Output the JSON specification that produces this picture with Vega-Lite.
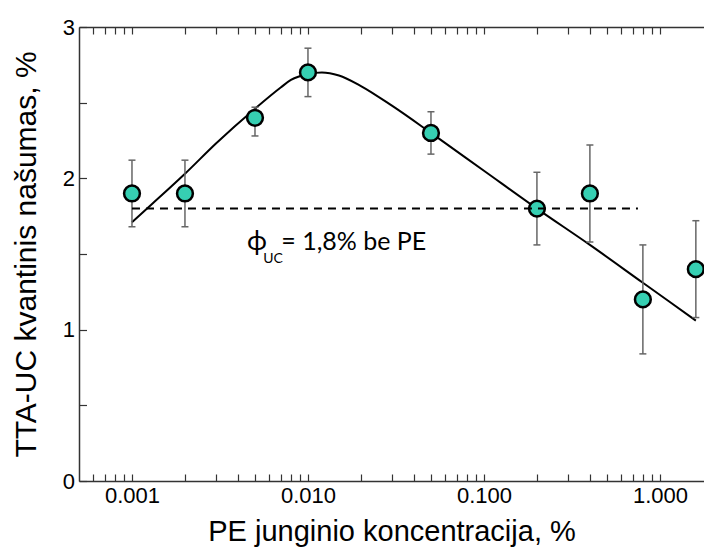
{
  "$schema": "https://vega.github.io/schema/vega-lite/v6.json",
  "autosize": {"type": "none"},
  "padding": {"left": 79, "top": 27, "right": 0, "bottom": 71},
  "width": 625,
  "height": 454,
  "background": "white",
  "config": {
    "view": {"stroke": null},
    "axis": {
      "domainColor": "#333",
      "tickColor": "#333",
      "domainWidth": 1.5,
      "tickWidth": 1.2,
      "labelFont": "Liberation Sans",
      "labelFontSize": 22,
      "labelColor": "black",
      "titleFont": "Liberation Sans",
      "titleFontWeight": "normal",
      "titleColor": "black",
      "grid": false,
      "labelOverlap": false
    }
  },
  "datasets": {
    "pts": [
      {"conc": 0.001, "qy": 1.9, "lo": 1.68, "hi": 2.12},
      {"conc": 0.002, "qy": 1.9, "lo": 1.68, "hi": 2.12},
      {"conc": 0.005, "qy": 2.4, "lo": 2.28, "hi": 2.47},
      {"conc": 0.01, "qy": 2.7, "lo": 2.54, "hi": 2.86},
      {"conc": 0.05, "qy": 2.3, "lo": 2.16, "hi": 2.44},
      {"conc": 0.2, "qy": 1.8, "lo": 1.56, "hi": 2.04},
      {"conc": 0.4, "qy": 1.9, "lo": 1.58, "hi": 2.22},
      {"conc": 0.8, "qy": 1.2, "lo": 0.84, "hi": 1.56},
      {"conc": 1.6, "qy": 1.4, "lo": 1.08, "hi": 1.72}
    ],
    "fit": [
      {"conc": 0.001, "qy": 1.71},
      {"conc": 0.0013, "qy": 1.83},
      {"conc": 0.002, "qy": 2.03},
      {"conc": 0.003, "qy": 2.23},
      {"conc": 0.005, "qy": 2.46},
      {"conc": 0.007, "qy": 2.6},
      {"conc": 0.008, "qy": 2.65},
      {"conc": 0.01, "qy": 2.69},
      {"conc": 0.012, "qy": 2.7},
      {"conc": 0.015, "qy": 2.68},
      {"conc": 0.02, "qy": 2.61},
      {"conc": 0.03, "qy": 2.48},
      {"conc": 0.05, "qy": 2.3},
      {"conc": 0.1, "qy": 2.05},
      {"conc": 0.2, "qy": 1.8},
      {"conc": 0.4, "qy": 1.56},
      {"conc": 0.8, "qy": 1.31},
      {"conc": 1.6, "qy": 1.06}
    ],
    "ref": [
      {"conc": 0.001, "qy": 1.8},
      {"conc": 0.75, "qy": 1.8}
    ]
  },
  "resolve": {"axis": {"x": "independent", "y": "independent"}},
  "layer": [
    {
      "data": {"name": "fit"},
      "mark": {"type": "line", "color": "black", "strokeWidth": 2, "interpolate": "monotone"},
      "encoding": {
        "x": {
          "field": "conc", "type": "quantitative",
          "scale": {"type": "log", "domain": [0.0005, 1.78], "nice": false},
          "axis": {
            "orient": "bottom",
            "title": "PE junginio koncentracija, %",
            "titleFontSize": 29,
            "titlePadding": 11,
            "values": [0.0006, 0.0007, 0.0008, 0.0009, 0.001, 0.002, 0.003, 0.004, 0.005, 0.006, 0.007, 0.008, 0.009, 0.01, 0.02, 0.03, 0.04, 0.05, 0.06, 0.07, 0.08, 0.09, 0.1, 0.2, 0.3, 0.4, 0.5, 0.6, 0.7, 0.8, 0.9, 1],
            "labelExpr": "datum.value == 0.001 ? '0.001' : datum.value == 0.01 ? '0.010' : datum.value == 0.1 ? '0.100' : datum.value == 1 ? '1.000' : ''",
            "tickSize": -7,
            "labelPadding": 11,
            "encode": {"ticks": {"y2": {"condition": {"test": "datum.value == 0.001 || datum.value == 0.01 || datum.value == 0.1 || datum.value == 1", "value": -7}, "value": -3.5}}}
          }
        },
        "y": {
          "field": "qy", "type": "quantitative",
          "scale": {"domain": [0, 3], "nice": false},
          "axis": {
            "title": "TTA-UC kvantinis našumas, %",
            "titleFontSize": 30,
            "titlePadding": 21,
            "values": [0, 0.5, 1, 1.5, 2, 2.5, 3],
            "labelExpr": "datum.value % 1 == 0 ? format(datum.value, 'd') : ''",
            "tickSize": -7.5,
            "labelPadding": 12,
            "encode": {"ticks": {"x2": {"condition": {"test": "datum.value % 1 == 0", "value": 7.5}, "value": 3.5}}}
          }
        }
      }
    },
    {
      "data": {"name": "pts"},
      "mark": {"type": "rule", "color": "#666", "strokeWidth": 1.5},
      "encoding": {
        "x": {"field": "conc", "type": "quantitative", "axis": null},
        "y": {"field": "lo", "type": "quantitative", "axis": null},
        "y2": {"field": "hi"}
      }
    },
    {
      "data": {"name": "pts"},
      "mark": {"type": "tick", "orient": "horizontal", "color": "#666", "size": 7, "thickness": 1.5, "opacity": 1},
      "encoding": {
        "x": {"field": "conc", "type": "quantitative", "axis": null},
        "y": {"field": "lo", "type": "quantitative", "axis": null}
      }
    },
    {
      "data": {"name": "pts"},
      "mark": {"type": "tick", "orient": "horizontal", "color": "#666", "size": 7, "thickness": 1.5, "opacity": 1},
      "encoding": {
        "x": {"field": "conc", "type": "quantitative", "axis": null},
        "y": {"field": "hi", "type": "quantitative", "axis": null}
      }
    },
    {
      "data": {"name": "pts"},
      "mark": {"type": "point", "filled": true, "fill": "#36cfb2", "stroke": "black", "strokeWidth": 2.5, "size": 250, "opacity": 1, "fillOpacity": 1},
      "encoding": {
        "x": {"field": "conc", "type": "quantitative", "axis": null},
        "y": {"field": "qy", "type": "quantitative", "axis": null}
      }
    },
    {
      "data": {"name": "ref"},
      "mark": {"type": "line", "color": "black", "strokeWidth": 2, "strokeDash": [8, 6]},
      "encoding": {
        "x": {
          "field": "conc", "type": "quantitative",
          "axis": {
            "orient": "top",
            "labels": false,
            "title": null,
            "values": [0.0006, 0.0007, 0.0008, 0.0009, 0.001, 0.002, 0.003, 0.004, 0.005, 0.006, 0.007, 0.008, 0.009, 0.01, 0.02, 0.03, 0.04, 0.05, 0.06, 0.07, 0.08, 0.09, 0.1, 0.2, 0.3, 0.4, 0.5, 0.6, 0.7, 0.8, 0.9, 1],
            "tickSize": -7,
            "encode": {"ticks": {"y2": {"condition": {"test": "datum.value == 0.001 || datum.value == 0.01 || datum.value == 0.1 || datum.value == 1", "value": 7}, "value": 3.5}}}
          }
        },
        "y": {"field": "qy", "type": "quantitative", "axis": null}
      }
    },
    {
      "data": {"values": [{"conc": 0.00451, "qy": 1.527, "label": "ϕ"}]},
      "mark": {"type": "text", "align": "left", "baseline": "alphabetic", "font": "Lato, Open Sans, DejaVu Sans", "fontSize": 27, "color": "black"},
      "encoding": {
        "x": {"field": "conc", "type": "quantitative", "axis": null},
        "y": {"field": "qy", "type": "quantitative", "axis": null},
        "text": {"field": "label"}
      }
    },
    {
      "data": {"values": [{"conc": 0.00557, "qy": 1.44, "label": "UC"}]},
      "mark": {"type": "text", "align": "left", "baseline": "alphabetic", "font": "Lato, Open Sans, DejaVu Sans", "fontSize": 14, "color": "black"},
      "encoding": {
        "x": {"field": "conc", "type": "quantitative", "axis": null},
        "y": {"field": "qy", "type": "quantitative", "axis": null},
        "text": {"field": "label"}
      }
    },
    {
      "data": {"values": [{"conc": 0.00705, "qy": 1.527, "label": "= 1,8% be PE"}]},
      "mark": {"type": "text", "align": "left", "baseline": "alphabetic", "font": "Lato, Open Sans, DejaVu Sans", "fontSize": 25, "color": "black"},
      "encoding": {
        "x": {"field": "conc", "type": "quantitative", "axis": null},
        "y": {"field": "qy", "type": "quantitative", "axis": null},
        "text": {"field": "label"}
      }
    }
  ]
}
